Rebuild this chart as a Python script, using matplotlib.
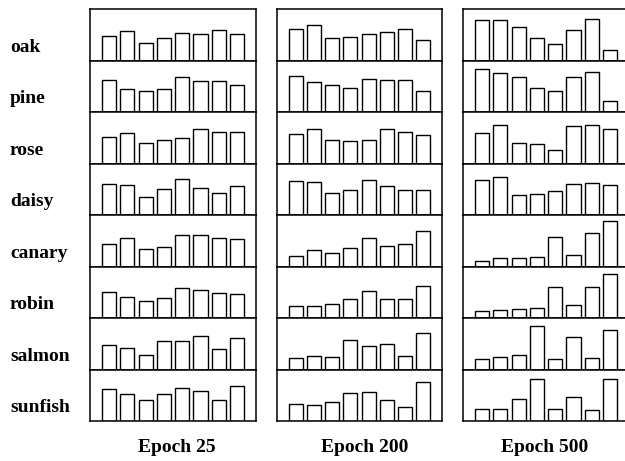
import matplotlib
matplotlib.use("Agg")
import matplotlib.pyplot as plt
import numpy as np

items = ["oak", "pine", "rose", "daisy", "canary", "robin", "salmon", "sunfish"]
epochs = ["Epoch 25", "Epoch 200", "Epoch 500"]

# bar heights (row height = 154 units)
epoch25 = [
    [75, 90, 53, 70, 85, 81, 93, 82],
    [98, 70, 63, 70, 106, 95, 94, 82],
    [80, 92, 62, 72, 77, 104, 95, 95],
    [95, 91, 55, 80, 110, 83, 68, 88],
    [68, 85, 52, 60, 94, 95, 85, 82],
    [79, 63, 52, 59, 91, 85, 74, 72],
    [75, 65, 45, 87, 86, 99, 62, 94],
    [96, 80, 63, 81, 98, 90, 62, 105],
]
epoch200 = [
    [95, 107, 70, 73, 80, 86, 97, 62],
    [109, 91, 81, 73, 100, 97, 96, 64],
    [89, 105, 71, 69, 71, 105, 96, 87],
    [102, 101, 68, 75, 107, 88, 75, 77],
    [31, 51, 42, 57, 85, 62, 69, 107],
    [37, 37, 41, 57, 82, 56, 56, 97],
    [34, 40, 38, 90, 70, 76, 42, 108],
    [51, 47, 56, 83, 87, 63, 43, 118],
]
epoch500 = [
    [123, 123, 101, 70, 52, 93, 125, 34],
    [129, 117, 107, 72, 63, 105, 121, 33],
    [91, 117, 63, 60, 42, 113, 117, 103],
    [105, 114, 61, 63, 73, 94, 98, 92],
    [16, 27, 27, 29, 90, 34, 100, 137],
    [22, 24, 27, 29, 92, 39, 93, 132],
    [31, 39, 44, 129, 31, 96, 34, 117],
    [36, 35, 67, 127, 36, 71, 32, 126],
]
data = [epoch25, epoch200, epoch500]

W, H = 625, 461
fig = plt.figure(figsize=(W / 100, H / 100), dpi=100)

col_px = [(90, 256), (277, 442), (463, 629)]
title_cx = [177, 365, 545]
top_px, bot_px = 9.5, 421.0
row_h = (bot_px - top_px) / len(items)
font = dict(family="Liberation Serif", fontweight="bold", fontsize=14)

x = np.arange(8)
for c, (x0, x1) in enumerate(col_px):
    for r, name in enumerate(items):
        y_top = top_px + r * row_h
        ax = fig.add_axes([x0 / W, (H - (y_top + row_h)) / H, (x1 - x0) / W, row_h / H])
        ax.bar(x, data[c][r], width=0.77, color="white", edgecolor="black", linewidth=1.0)
        ax.set_xlim(-1.04, 8.03)
        ax.set_ylim(0, 154)
        ax.set_xticks([])
        ax.set_yticks([])
        for s in ax.spines.values():
            s.set_linewidth(1.1)
        if c == 0:
            fig.text(10 / W, (H - (y_top + row_h - 9)) / H, name, ha="left", va="baseline", **font)
    fig.text(title_cx[c] / W, (H - 452) / H, epochs[c], ha="center", va="baseline", **font)

fig.savefig("out.png", dpi=100)
